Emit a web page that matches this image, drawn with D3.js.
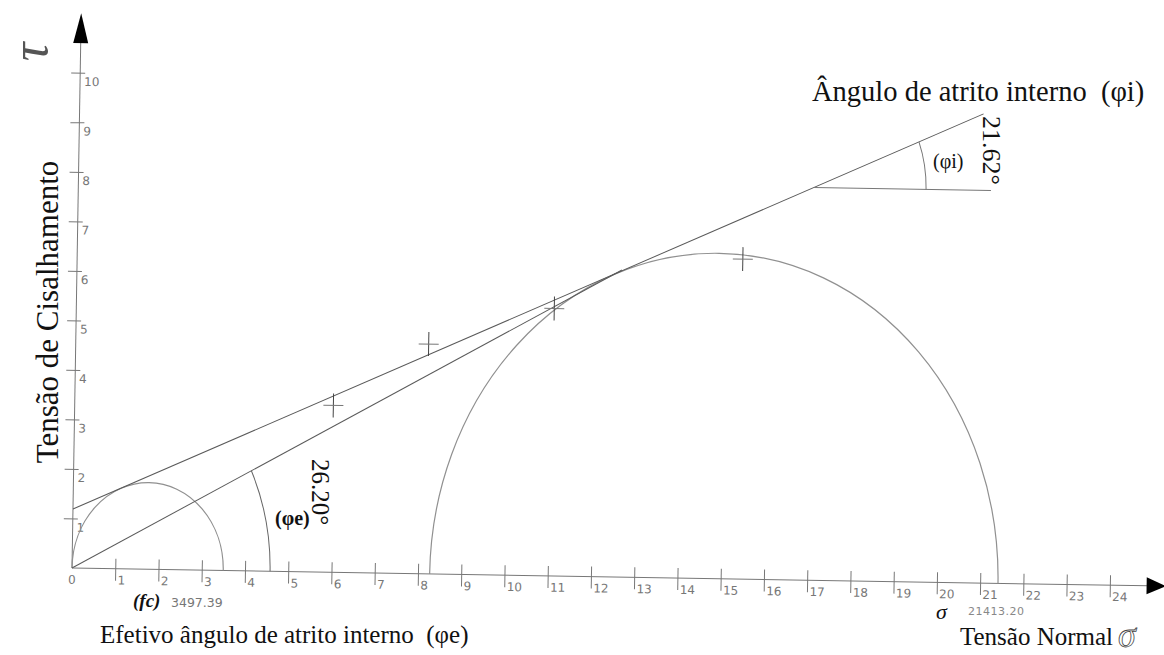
<!DOCTYPE html>
<html>
<head>
<meta charset="utf-8">
<script src="https://cdn.jsdelivr.net/npm/d3@7"></script>
<style>
  body { margin: 0; background: #fff; }
  svg { display: block; }
  .serif { font-family: "Liberation Serif", "Times New Roman", serif; fill: #111; white-space: pre; }
  .tick text { font-family: "DejaVu Sans", sans-serif; font-size: 12px; fill: #777; }
</style>
</head>
<body>
<svg id="chart" width="1164" height="655"></svg>
<script>
// Mohr circles of two tests with their Mohr-Coulomb envelopes (stress in thousands)
const xTickLabels = ["0","1","2","3","4","5","6","7","8","9","10","11","12",
                     "13","14","15","16","17","18","19","20","21","22","23","24"];
const yTickLabels = ["1","2","3","4","5","6","7","8","9","10"];

// principal stresses of each test
const sigma3 = [0, 8.27];
const sigma1 = [3.49739, 21.4132];

// envelopes: internal friction (φi) and effective friction (φe)
const envelopeNames = ["φi", "φe"];
const envelopeAngles = [21.62, 26.20];     // degrees
const envelopeIntercepts = [1.19, 0];      // cohesion on the τ axis
const envelopeEnds = [20.9, 12.6];         // σ where each line stops

// measured points (σ, τ)
const pointSigma = [5.98, 8.16, 11.05, 15.39];
const pointTau = [3.37, 4.64, 5.40, 6.46];

// ---- layout ----
const ORIGIN = [72, 568];
const TILT = 0.95;
const UX = 43.25, UY = 49.53;
const rad = d => d * Math.PI / 180;

const svg = d3.select("#chart");
const x = d3.scaleLinear().domain([0, 1]).range([0, UX]);
const y = d3.scaleLinear().domain([0, 1]).range([0, -UY]);

const g = svg.append("g").attr("transform", `translate(${ORIGIN}) rotate(${TILT})`);

// σ axis
const xAxis = d3.axisBottom(x)
  .tickValues(d3.range(1, xTickLabels.length))
  .tickFormat(i => xTickLabels[i])
  .tickSizeOuter(0);
const gx = g.append("g").call(xAxis);
gx.select(".domain").remove();
gx.selectAll(".tick line").attr("y1", -10).attr("y2", 12).attr("stroke", "#777");
gx.selectAll(".tick text").attr("x", 2).attr("y", 5).attr("dy", "0.9em").attr("text-anchor", "start");
g.append("text").attr("class", "tick")
  .attr("x", x(0)).attr("y", 5).attr("dy", "0.9em")
  .attr("text-anchor", "middle")
  .style("font-family", "DejaVu Sans, sans-serif").style("font-size", "12px").style("fill", "#777")
  .text(xTickLabels[0]);

g.append("line").attr("x1", x(0)).attr("y1", 0).attr("x2", x(24.9)).attr("y2", 0)
  .attr("stroke", "#777").attr("stroke-width", 1);
g.append("path")
  .attr("d", `M${x(24.85)},-8.5L${x(25.3)},0L${x(24.85)},8.5Z`)
  .attr("fill", "#000");

// τ axis
const yAxis = d3.axisLeft(y)
  .tickValues(d3.range(1, yTickLabels.length + 1))
  .tickFormat(i => yTickLabels[i - 1])
  .tickSizeOuter(0);
const gy = g.append("g").call(yAxis);
gy.select(".domain").remove();
gy.selectAll(".tick line").attr("x1", -9).attr("x2", 5).attr("stroke", "#777");
gy.selectAll(".tick text").attr("x", 4).attr("dy", "1.05em").attr("text-anchor", "start");

g.append("line").attr("x1", 0).attr("y1", 0).attr("x2", 0).attr("y2", y(10.7))
  .attr("stroke", "#777").attr("stroke-width", 1);
g.append("path")
  .attr("d", `M-7.5,${y(10.6)}L0,${y(11.2)}L7.5,${y(10.6)}Z`)
  .attr("fill", "#000");

// Mohr circles (upper halves)
g.selectAll("path.mohr").data(d3.range(sigma3.length)).join("path")
  .attr("class", "mohr")
  .attr("d", i => {
    const r = (sigma1[i] - sigma3[i]) / 2;
    return `M${x(sigma3[i])},${y(0)}A${x(r)},${-y(r)} 0 0 1 ${x(sigma1[i])},${y(0)}`;
  })
  .attr("fill", "none").attr("stroke", "#909090").attr("stroke-width", 1.2);

// failure envelopes
const envY = (i, s) => envelopeIntercepts[i] + Math.tan(rad(envelopeAngles[i])) * s;
g.selectAll("line.env").data(d3.range(envelopeAngles.length)).join("line")
  .attr("class", "env")
  .attr("x1", x(0)).attr("y1", i => y(envY(i, 0)))
  .attr("x2", i => x(envelopeEnds[i])).attr("y2", i => y(envY(i, envelopeEnds[i])))
  .attr("stroke", "#5a5a5a").attr("stroke-width", 1);

// angle of internal friction: horizontal reference and arc
const vI = 17.0, hI = 21.1, rI = 2.6;
const yvI = envY(0, vI);
g.append("line").attr("x1", x(vI)).attr("y1", y(yvI)).attr("x2", x(hI)).attr("y2", y(yvI))
  .attr("stroke", "#777").attr("stroke-width", 1);
g.append("path")
  .attr("d", `M${x(vI + rI)},${y(yvI)}A${x(rI)},${-y(rI)} 0 0 0 ${x(vI + rI * Math.cos(rad(envelopeAngles[0])))},${y(yvI + rI * Math.sin(rad(envelopeAngles[0])))}`)
  .attr("fill", "none").attr("stroke", "#777").attr("stroke-width", 1);

// angle of effective friction: arc about the origin
const rE = 4.58;
g.append("path")
  .attr("d", `M${x(rE)},${y(0)}A${x(rE)},${-y(rE)} 0 0 0 ${x(rE * Math.cos(rad(envelopeAngles[1])))},${y(rE * Math.sin(rad(envelopeAngles[1])))}`)
  .attr("fill", "none").attr("stroke", "#666").attr("stroke-width", 1);

// measured points as crosses
const pts = g.selectAll("g.pt").data(d3.range(pointSigma.length)).join("g")
  .attr("class", "pt")
  .attr("transform", i => `translate(${x(pointSigma[i])},${y(pointTau[i])})`);
pts.append("line").attr("x1", 0).attr("x2", 0).attr("y1", -12).attr("y2", 12).attr("stroke", "#444");
pts.append("line").attr("x1", -10).attr("x2", 10).attr("y1", 0).attr("y2", 0).attr("stroke", "#777");

// ---- text ----
const T = (x0, y0, size, txt, opts = {}) => {
  const t = svg.append("text").attr("class", "serif")
    .attr("x", x0).attr("y", y0)
    .style("font-size", size + "px").text(txt);
  if (opts.rotate !== undefined) t.attr("transform", `rotate(${opts.rotate},${x0},${y0})`);
  if (opts.anchor) t.attr("text-anchor", opts.anchor);
  if (opts.weight) t.style("font-weight", opts.weight);
  if (opts.italic) t.style("font-style", "italic");
  if (opts.fill) t.style("fill", opts.fill);
  return t;
};

T(47, 52, 52, "τ", { rotate: -90, anchor: "middle", italic: true, fill: "#555" });
T(58, 312, 31, "Tensão de Cisalhamento", { rotate: -90, anchor: "middle" });

T(812, 101, 28.5, "Ângulo de atrito interno  (" + envelopeNames[0] + ")");
T(933, 168, 20, "(" + envelopeNames[0] + ")");
T(983, 116, 26, envelopeAngles[0].toFixed(2) + "°", { rotate: 90 });

T(275, 525, 20, "(" + envelopeNames[1] + ")", { weight: "bold" });
T(312, 459, 25, envelopeAngles[1].toFixed(2) + "°", { rotate: 90 });

T(133, 607, 19, "(fc)", { weight: "bold", italic: true });
svg.append("text").attr("x", 171).attr("y", 607)
  .style("font-family", "DejaVu Sans, sans-serif").style("font-size", "12.5px").style("fill", "#777")
  .text((sigma1[0] * 1000).toFixed(2));
T(100, 643, 25, "Efetivo ângulo de atrito interno  (" + envelopeNames[1] + ")");

T(936, 619, 22, "σ", { italic: true });
svg.append("text").attr("x", 968).attr("y", 615)
  .style("font-family", "DejaVu Sans, sans-serif").style("font-size", "11px").style("fill", "#888")
  .style("letter-spacing", "0.5px")
  .text((sigma1[1] * 1000).toFixed(2));
T(960, 645, 25, "Tensão Normal");
T(1118, 647, 36, "σ", { italic: true, fill: "#fff" })
  .style("stroke", "#444").style("stroke-width", 0.8);
</script>
</body>
</html>
